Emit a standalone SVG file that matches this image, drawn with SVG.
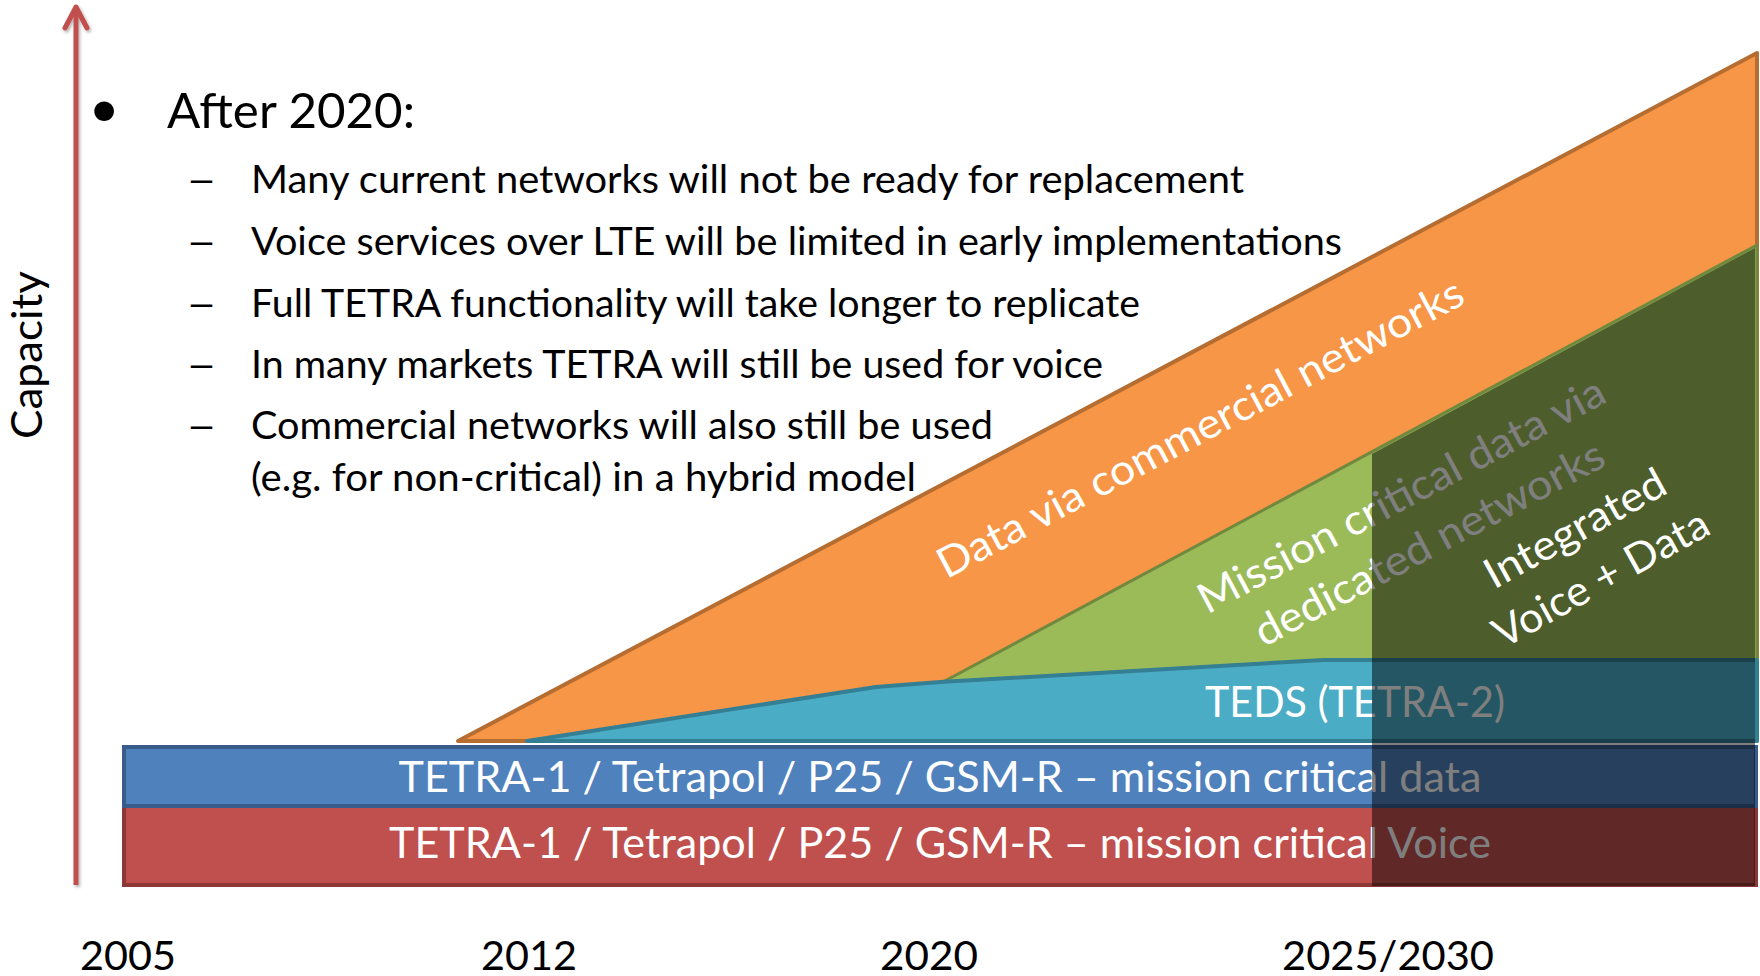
<svg xmlns="http://www.w3.org/2000/svg" width="1760" height="976" viewBox="0 0 1760 976">
  <style>
    .txt { font-family: Lato, "Liberation Sans", sans-serif; }
    .dark { fill: #000000; }
    .white { fill: #ffffff; }
    .title { font-size: 48px; }
    .sub { font-size: 38px; }
    .band { font-size: 42px; }
    .year { font-size: 41px; }
    .orange { fill: #F79646; stroke: #B66D31; stroke-width: 4; stroke-linejoin: round; }
    .green { fill: #9BBB59; stroke: #71893F; stroke-width: 3; stroke-linejoin: round; }
    .teal { fill: #4BACC6; stroke: #357F94; stroke-width: 4; stroke-linejoin: round; }
    .blue { fill: #4F81BD; stroke: #385D8A; stroke-width: 4; }
    .red { fill: #C0504D; stroke: #8C3836; stroke-width: 4; }
    .shade { fill: #000000; fill-opacity: 0.5; }
    .axis { fill: none; stroke: #C0504D; stroke-width: 5; }
  </style>
  <defs>
    <filter id="shadow" filterUnits="userSpaceOnUse" x="50" y="0" width="60" height="900">
      <feDropShadow dx="1.5" dy="2" stdDeviation="1.5" flood-color="#000" flood-opacity="0.3"/>
    </filter>
    <marker id="openhead" markerUnits="userSpaceOnUse" markerWidth="30" markerHeight="30" refX="27" refY="15" orient="auto" viewBox="0 0 30 30">
      <path d="M6,4 L27,15 L6,26" fill="none" stroke="#C0504D" stroke-width="5" stroke-linecap="round" stroke-linejoin="round"/>
    </marker>
  </defs>

  <!-- Orange: data via commercial networks -->
  <g id="node-commercial">
    <polygon class="orange" points="458,741 1757,53 1757,741"/>
    <text class="txt white band" text-anchor="middle" x="1207" y="441" textLength="590" lengthAdjust="spacingAndGlyphs" transform="rotate(-28 1207 441)">Data via commercial networks</text>
  </g>

  <!-- Green: mission critical data via dedicated networks -->
  <g id="node-mission">
    <polygon class="green" points="943,682 1757,245 1757,660 1324,660"/>
    <text class="txt white band" text-anchor="middle" transform="rotate(-28 1408 508)">
      <tspan x="1408" y="508" textLength="455" lengthAdjust="spacingAndGlyphs">Mission critical data via</tspan>
    </text>
    <text class="txt white band" text-anchor="middle" transform="rotate(-28 1436 556)">
      <tspan x="1436" y="556" textLength="390" lengthAdjust="spacingAndGlyphs">dedicated networks</tspan>
    </text>
  </g>

  <!-- Teal: TEDS -->
  <g id="node-teds">
    <polygon class="teal" points="527,741 876,687 940,682 1324,660 1757,660 1757,741"/>
    <text class="txt white band" text-anchor="middle" x="1355" y="717" textLength="300" lengthAdjust="spacingAndGlyphs">TEDS (TETRA-2)</text>
  </g>

  <!-- Red: mission critical voice -->
  <g id="node-voice">
    <rect class="red" x="124" y="806" width="1632" height="79"/>
    <text class="txt white band" text-anchor="middle" x="940" y="858" textLength="1102" lengthAdjust="spacingAndGlyphs">TETRA-1 / Tetrapol / P25 / GSM-R – mission critical Voice</text>
  </g>

  <!-- Blue: mission critical data -->
  <g id="node-data">
    <rect class="blue" x="124" y="747" width="1632" height="59"/>
    <text class="txt white band" text-anchor="middle" x="940" y="792" textLength="1083" lengthAdjust="spacingAndGlyphs">TETRA-1 / Tetrapol / P25 / GSM-R – mission critical data</text>
  </g>

  <!-- Dark overlay: integrated voice + data -->
  <g id="node-integrated">
    <polygon class="shade" points="1372,454 1755,248 1755,886 1372,886"/>
    <text class="txt white band" text-anchor="middle" transform="rotate(-29 1582 541)">
      <tspan x="1582" y="541" textLength="201" lengthAdjust="spacingAndGlyphs">Integrated</tspan>
    </text>
    <text class="txt white band" text-anchor="middle" transform="rotate(-29 1608 591)">
      <tspan x="1608" y="591" textLength="240" lengthAdjust="spacingAndGlyphs">Voice + Data</tspan>
    </text>
  </g>

  <!-- Bullet text -->
  <g id="node-bullets">
    <text class="txt dark" x="104" y="127" font-size="53" text-anchor="middle">•</text>
    <text class="txt dark title" x="167" y="128" textLength="248" lengthAdjust="spacingAndGlyphs">After 2020:</text>
    <text class="txt dark sub" x="186" y="193" textLength="31" lengthAdjust="spacingAndGlyphs">–</text>
    <text class="txt dark sub" x="251" y="193" textLength="993" lengthAdjust="spacingAndGlyphs">Many current networks will not be ready for replacement</text>
    <text class="txt dark sub" x="186" y="255" textLength="31" lengthAdjust="spacingAndGlyphs">–</text>
    <text class="txt dark sub" x="251" y="255" textLength="1091" lengthAdjust="spacingAndGlyphs">Voice services over LTE will be limited in early implementations</text>
    <text class="txt dark sub" x="186" y="317" textLength="31" lengthAdjust="spacingAndGlyphs">–</text>
    <text class="txt dark sub" x="251" y="317" textLength="889" lengthAdjust="spacingAndGlyphs">Full TETRA functionality will take longer to replicate</text>
    <text class="txt dark sub" x="186" y="378" textLength="31" lengthAdjust="spacingAndGlyphs">–</text>
    <text class="txt dark sub" x="251" y="378" textLength="852" lengthAdjust="spacingAndGlyphs">In many markets TETRA will still be used for voice</text>
    <text class="txt dark sub" x="186" y="439" textLength="31" lengthAdjust="spacingAndGlyphs">–</text>
    <text class="txt dark sub" x="251" y="439" textLength="742" lengthAdjust="spacingAndGlyphs">Commercial networks will also still be used</text>
    <text class="txt dark sub" x="251" y="491" textLength="665" lengthAdjust="spacingAndGlyphs">(e.g. for non-critical) in a hybrid model</text>
  </g>

  <!-- Axis label -->
  <g id="node-capacity">
    <text class="txt dark" font-size="43" text-anchor="middle" x="0" y="0" transform="translate(42 355) rotate(-90)" textLength="168" lengthAdjust="spacingAndGlyphs">Capacity</text>
  </g>

  <!-- Year labels -->
  <g id="node-years">
    <text class="txt dark year" x="80" y="970" textLength="96" lengthAdjust="spacingAndGlyphs">2005</text>
    <text class="txt dark year" x="481" y="970" textLength="96" lengthAdjust="spacingAndGlyphs">2012</text>
    <text class="txt dark year" x="880" y="970" textLength="98" lengthAdjust="spacingAndGlyphs">2020</text>
    <text class="txt dark year" x="1282" y="970" textLength="212" lengthAdjust="spacingAndGlyphs">2025/2030</text>
  </g>

  <!-- Connectors: capacity axis -->
  <g id="connectors">
    <path class="axis" d="M76,885 L76,7" marker-end="url(#openhead)" filter="url(#shadow)"/>
  </g>
</svg>
